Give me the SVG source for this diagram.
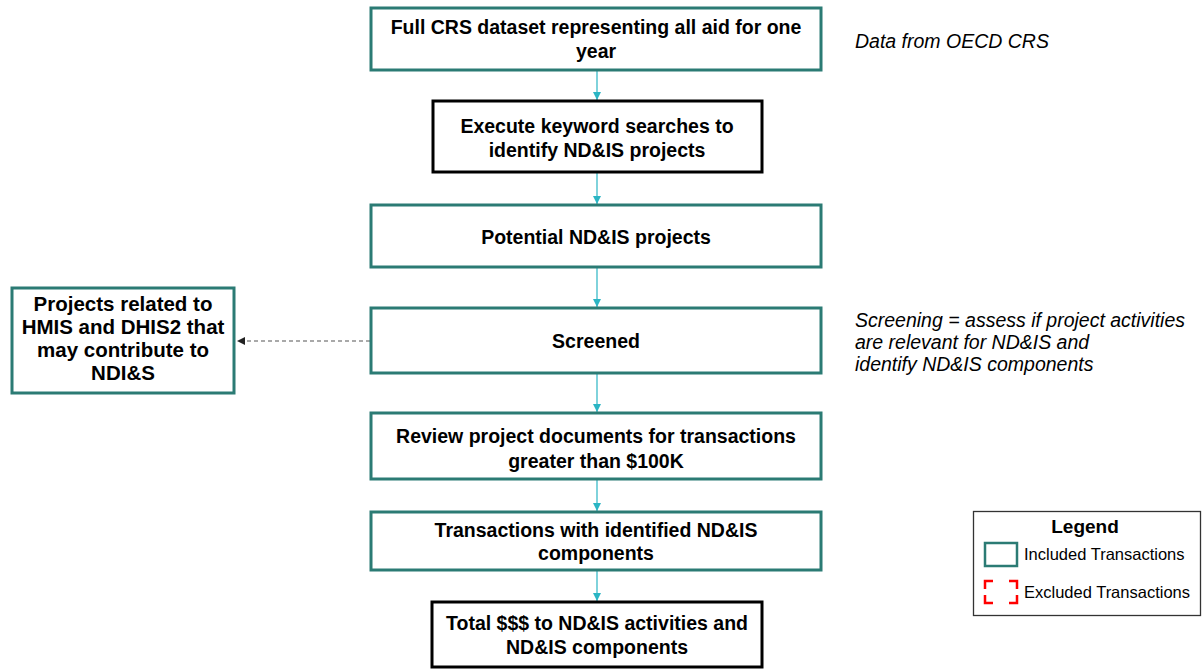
<svg xmlns="http://www.w3.org/2000/svg" width="1202" height="670" viewBox="0 0 1202 670">
<style>
.inc{fill:#fff;stroke:#2B7B74;stroke-width:3}
.blk{fill:#fff;stroke:#000;stroke-width:3}
.t{font-family:"Liberation Sans",Arial,sans-serif;font-weight:bold;font-size:19.5px;fill:#000;text-anchor:middle}
.t2{font-family:"Liberation Sans",Arial,sans-serif;font-weight:bold;font-size:20.5px;fill:#000;text-anchor:middle}
.it{font-family:"Liberation Sans",Arial,sans-serif;font-style:italic;font-size:19.5px;fill:#000}
.lg{font-family:"Liberation Sans",Arial,sans-serif;font-size:16.5px;fill:#000}
.arr{stroke:#2BB5C4;stroke-width:1.2;fill:none;marker-end:url(#ah)}
</style>
<defs>
<marker id="ah" viewBox="0 0 10 10" refX="10" refY="5" markerWidth="8" markerHeight="8" markerUnits="userSpaceOnUse" orient="auto"><path d="M0,0 L10,5 L0,10 z" fill="#2BB5C4"/></marker>
<marker id="ahd" viewBox="0 0 10 10" refX="10" refY="5" markerWidth="8" markerHeight="8" markerUnits="userSpaceOnUse" orient="auto"><path d="M0,0 L10,5 L0,10 z" fill="#222"/></marker>
</defs>
<rect width="1202" height="670" fill="#fff"/>
<g id="connectors">
<line class="arr" x1="597" y1="71" x2="597" y2="100"/>
<line class="arr" x1="597" y1="172" x2="597" y2="204"/>
<line class="arr" x1="597" y1="268" x2="597" y2="307"/>
<line class="arr" x1="597" y1="374" x2="597" y2="412"/>
<line class="arr" x1="597" y1="480" x2="597" y2="511"/>
<line class="arr" x1="597" y1="571" x2="597" y2="601"/>
<line x1="370" y1="341" x2="237" y2="341" stroke="#555" stroke-width="1.2" stroke-dasharray="4,3" marker-end="url(#ahd)"/>
</g>
<g id="n1"><rect class="inc" x="371" y="8" width="450" height="62"/>
<text class="t" x="596" y="34">Full CRS dataset representing all aid for one</text>
<text class="t" x="596" y="58">year</text></g>
<g id="n2"><rect class="blk" x="433" y="101" width="329" height="71"/>
<text class="t" x="597" y="133">Execute keyword searches to</text>
<text class="t" x="597" y="157">identify ND&amp;IS projects</text></g>
<g id="n3"><rect class="inc" x="371" y="205" width="450" height="62"/>
<text class="t" x="596" y="244">Potential ND&amp;IS projects</text></g>
<g id="n4"><rect class="inc" x="371" y="308" width="450" height="65"/>
<text class="t" x="596" y="348">Screened</text></g>
<g id="n5"><rect class="inc" x="371" y="413" width="450" height="66"/>
<text class="t" x="596" y="443">Review project documents for transactions</text>
<text class="t" x="596" y="468">greater than $100K</text></g>
<g id="n6"><rect class="inc" x="371" y="512" width="450" height="58"/>
<text class="t" x="596" y="537">Transactions with identified ND&amp;IS</text>
<text class="t" x="596" y="560">components</text></g>
<g id="n7"><rect class="blk" x="432" y="602" width="330" height="65"/>
<text class="t" x="597" y="630">Total $$$ to ND&amp;IS activities and</text>
<text class="t" x="597" y="654">ND&amp;IS components</text></g>
<g id="n8"><rect class="inc" x="12" y="288" width="222" height="105"/>
<text class="t2" x="123" y="311">Projects related to</text>
<text class="t2" x="123" y="334">HMIS and DHIS2 that</text>
<text class="t2" x="123" y="357">may contribute to</text>
<text class="t2" x="123" y="380">NDI&amp;S</text></g>
<g id="note1"><text class="it" x="855" y="48">Data from OECD CRS</text></g>
<g id="note2"><text class="it" x="855" y="327">Screening = assess if project activities</text>
<text class="it" x="855" y="349">are relevant for ND&amp;IS and</text>
<text class="it" x="855" y="371">identify ND&amp;IS components</text></g>
<g id="legend"><rect x="973.5" y="511.5" width="227" height="104" fill="#fff" stroke="#333" stroke-width="1.3"/>
<text x="1085" y="533" font-family="'Liberation Sans',Arial,sans-serif" font-weight="bold" font-size="19" text-anchor="middle">Legend</text>
<rect x="985" y="543" width="32" height="23" fill="#fff" stroke="#2B7B74" stroke-width="2.5"/>
<text class="lg" x="1024" y="560">Included Transactions</text>
<path d="M985,589 V581 H993 M1009,581 H1017 V589 M1017,595 V603 H1009 M993,603 H985 V595" fill="none" stroke="#F00" stroke-width="2.5"/>
<text class="lg" x="1024" y="598">Excluded Transactions</text></g>
</svg>
